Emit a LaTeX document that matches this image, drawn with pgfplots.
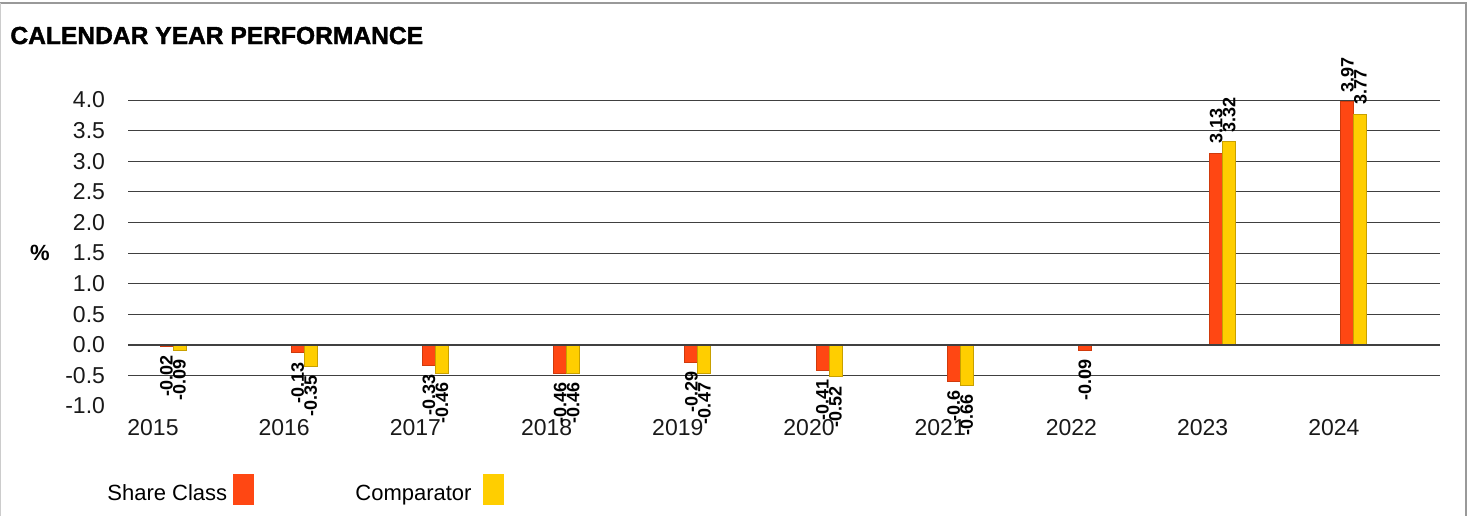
\documentclass[border=0pt]{standalone}
\usepackage{fontspec}
\setmainfont{Liberation Sans}
\newfontfamily\titlefont[BoldFeatures={FakeBold=1.6}]{Liberation Sans}
\usepackage{graphicx}
\usepackage{pgfplots}
\pgfplotsset{compat=1.18}
\definecolor{share}{HTML}{FF4713}
\definecolor{shareedge}{HTML}{D03A0C}
\definecolor{comp}{HTML}{FFCE00}
\definecolor{compedge}{HTML}{C8A000}
\begin{document}
\begin{tikzpicture}
\useasboundingbox (0,0) rectangle (735.5pt,-257.5pt);
\draw[gray!80, line width=1pt] (0,-1.5pt) -- (733pt,-1.5pt) -- (733pt,-270pt);
\draw[gray!40, line width=0.6pt] (0.3pt,-1.5pt) -- (0.3pt,-270pt);
\node[anchor=base west, font=\titlefont\bfseries\fontsize{12.3}{14}\selectfont, inner sep=0pt] at (5pt,-22pt) {CALENDAR YEAR PERFORMANCE};
\node[font=\bfseries\fontsize{11}{13}\selectfont] at (20pt,-126.5pt) {\%};
\begin{axis}[
 at={(64pt,-203pt)}, anchor=south west,
 width=656pt, height=153pt, scale only axis,
 xmin=-0.343, xmax=9.657, ymin=-1, ymax=4,
 ybar=0pt, bar width=6.5pt,
 xtick={0,1,2,3,4,5,6,7,8,9},
 xticklabels={2015,2016,2017,2018,2019,2020,2021,2022,2023,2024},
 ytick={-0.5,0,0.5,1,1.5,2,2.5,3,3.5,4},
 extra y ticks={-1}, extra y tick style={grid=none},
 ymajorgrids, grid style={line width=0.5pt, color=black!75},
 axis line style={draw=none}, major tick length=0pt,
 tick label style={font=\fontsize{11.5}{13}\selectfont, text=black!90},
 /pgf/number format/assume math mode=true,
 yticklabel style={xshift=-8pt, /pgf/number format/.cd, fixed, fixed zerofill, precision=1, assume math mode=true},
 xticklabel style={xshift=-10pt, yshift=-3pt},
 clip=false,
 nodes near coords={\rotatebox{90}{\pgfmathprintnumber[fixed,precision=2,assume math mode=true]{\pgfplotspointmeta}}},
 nodes near coords align=vertical,
 every node near coord/.append style={font=\bfseries\fontsize{9}{10}\selectfont, text=black, inner sep=4.5pt},
]
\addplot[fill=share, draw=shareedge] coordinates {
 (0,-0.02) (1,-0.13) (2,-0.33) (3,-0.46) (4,-0.29) (5,-0.41) (6,-0.6) (7,-0.09) (8,3.13) (9,3.97)};
\addplot[fill=comp, draw=compedge] coordinates {
 (0,-0.09) (1,-0.35) (2,-0.46) (3,-0.46) (4,-0.47) (5,-0.52) (6,-0.66) (8,3.32) (9,3.77)};
\draw[black!75, line width=1pt] (rel axis cs:0,0.2) -- (rel axis cs:1,0.2);
\end{axis}
\node[anchor=base west, font=\fontsize{11}{13}\selectfont, inner sep=0pt] at (53.5pt,-250pt) {Share Class};
\fill[share] (116.5pt,-237pt) rectangle (127pt,-252.5pt);
\node[anchor=base west, font=\fontsize{11}{13}\selectfont, inner sep=0pt] at (177.5pt,-250pt) {Comparator};
\fill[comp] (241.5pt,-237pt) rectangle (252pt,-252.5pt);
\end{tikzpicture}
\end{document}
